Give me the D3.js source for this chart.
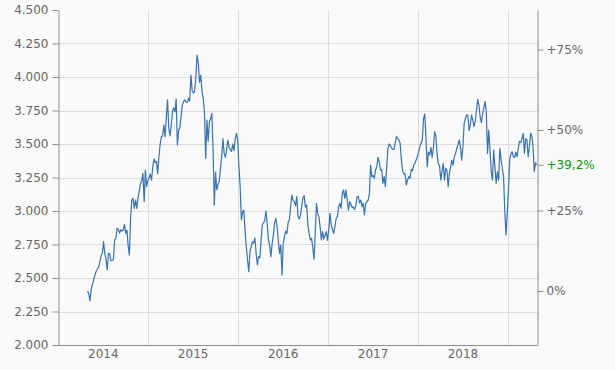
<!DOCTYPE html>
<html>
<head>
<meta charset="utf-8">
<script src="https://cdn.jsdelivr.net/npm/d3@7"></script>
<style>
  html, body { margin: 0; padding: 0; background: #fafafa; }
  svg { display: block; font-family: "DejaVu Sans", Verdana, sans-serif; }
</style>
</head>
<body>
<div id="chart"></div>
<script>
// price series, one value every 5 days starting 2014-04-29
const startDate = '2014-04-29';
const stepDays = 5;
const prices = [
  2403, 2380, 2330, 2420, 2450, 2490, 2520, 2550, 2565, 2580,
  2620, 2665, 2684, 2771, 2684, 2640, 2560, 2684, 2680, 2629,
  2631, 2634, 2784, 2796, 2870, 2865, 2835, 2860, 2850, 2860,
  2900, 2833, 2858, 2740, 2671, 2950, 3082, 3094, 3020, 3082,
  3020, 3100, 3150, 3200, 3225, 3281, 3070, 3306, 3181, 3225,
  3250, 3275, 3230, 3330, 3390, 3360, 3370, 3281, 3405, 3500,
  3555, 3560, 3642, 3555, 3700, 3830, 3620, 3560, 3640, 3741,
  3770, 3740, 3835, 3493, 3604, 3620, 3710, 3790, 3816, 3830,
  3815, 3810, 3840, 3820, 4015, 3900, 3880, 3890, 4000, 4164,
  4100, 3960, 4015, 3890, 3840, 3741, 3393, 3679, 3520, 3667,
  3690, 3729, 3450, 3045, 3290, 3157, 3200, 3220, 3320, 3405,
  3540, 3430, 3400, 3460, 3530, 3475, 3460, 3445, 3500, 3450,
  3542, 3580, 3530, 3330, 3180, 2933, 2990, 3007, 2850, 2730,
  2636, 2547, 2700, 2735, 2770, 2760, 2800, 2680, 2600, 2660,
  2650, 2784, 2900, 2908, 2933, 3000, 2900, 2790, 2740, 2659,
  2758, 2821, 2908, 2945, 2883, 2784, 2684, 2746, 2522, 2758,
  2808, 2850, 2833, 2915, 2933, 3032, 3119, 3082, 3070, 3040,
  3107, 2960, 2940, 2970, 3030, 3100, 3115, 3030, 3045, 2908,
  2833, 2784, 2796, 2730, 2640, 2833, 3057, 2982, 2958, 2880,
  2784, 2846, 2790, 2820, 2846, 2780, 2858, 2982, 2900, 2860,
  2833, 2883, 2945, 2958, 3032, 3057, 3020, 3132, 3157, 3094,
  3157, 3082, 3007, 3070, 3050, 3025, 3030, 3010, 3040, 3107,
  3110, 3060, 3082, 3032, 3057, 2970, 3057, 3070, 3080, 3130,
  3343, 3256, 3265, 3244, 3306, 3330, 3400, 3368, 3306, 3310,
  3206, 3256, 3181, 3320, 3460, 3500, 3490, 3470, 3460, 3460,
  3510, 3555, 3542, 3530, 3505, 3380, 3300, 3275, 3280, 3194,
  3231, 3256, 3244, 3310, 3300, 3345, 3356, 3380, 3405, 3440,
  3480, 3505, 3530, 3690, 3724, 3540, 3330, 3440, 3418, 3475,
  3400, 3470, 3592, 3560, 3430, 3350, 3340, 3231, 3300, 3355,
  3231, 3318, 3306, 3182, 3280, 3330, 3380, 3343, 3405, 3430,
  3465, 3495, 3530, 3480, 3380, 3480, 3654, 3690, 3716, 3716,
  3600, 3640, 3716, 3679, 3629, 3667, 3750, 3833, 3790, 3700,
  3660, 3729, 3770, 3816, 3740, 3430, 3604, 3455, 3290, 3231,
  3455, 3330, 3206, 3293, 3231, 3468, 3380, 3318, 3256, 3007,
  2821, 2980, 3160, 3380, 3430, 3443, 3405, 3400, 3440, 3405,
  3468, 3520, 3510, 3542, 3580, 3430, 3540, 3530, 3405, 3480,
  3580, 3560, 3480, 3293, 3360, 3345
];

const yTicks = [2000, 2250, 2500, 2750, 3000, 3250, 3500, 3750, 4000, 4250, 4500];
const pctTicks = [0, 0.25, 0.5, 0.75];
const years = [2014, 2015, 2016, 2017, 2018];

const width = 615, height = 370;
const margin = { top: 10, right: 77.5, bottom: 25, left: 58.5 };
const axisColor = '#8c8c8c', gridColor = '#dcdcdc', textColor = '#666';

const de = d3.formatLocale({ decimal: ',', thousands: '.', grouping: [3], currency: ['', '€'] });
const fmtPrice = de.format(',.0f');
const fmtPct = de.format('+.1f');

const t0 = d3.timeParse('%Y-%m-%d')(startDate);
const data = prices.map((v, i) => ({ date: d3.timeDay.offset(t0, i * stepDays), value: v }));
const base = prices[0];
const last = prices[prices.length - 1];

const svg = d3.select('#chart').append('svg')
  .attr('width', width)
  .attr('height', height);

const x = d3.scaleTime()
  .domain([new Date(2014, 0, 1), new Date(2019, 4, 1)])
  .range([margin.left, width - margin.right]);

const y = d3.scaleLinear()
  .domain([2000, 4500])
  .range([height - margin.bottom, margin.top]);

// grid
svg.append('g')
  .selectAll('line')
  .data(yTicks.slice(1, -1))
  .join('line')
  .attr('x1', margin.left).attr('x2', width - margin.right)
  .attr('y1', d => Math.round(y(d)) + 0.5).attr('y2', d => Math.round(y(d)) + 0.5)
  .attr('stroke', gridColor);

svg.append('g')
  .selectAll('line')
  .data(years.slice(1).concat([2019]).map(yr => new Date(yr, 0, 1)))
  .join('line')
  .attr('x1', d => Math.round(x(d)) + 0.5).attr('x2', d => Math.round(x(d)) + 0.5)
  .attr('y1', margin.top).attr('y2', height - margin.bottom)
  .attr('stroke', gridColor);

// left axis
const yAxis = svg.append('g')
  .attr('transform', `translate(${margin.left},0)`)
  .call(d3.axisLeft(y).tickValues(yTicks).tickFormat(fmtPrice).tickSizeOuter(0).tickPadding(4));

// right axis in percent of first price
const pctValues = pctTicks.map(p => base * (1 + p));
const rAxis = svg.append('g')
  .attr('transform', `translate(${width - margin.right},0)`)
  .call(d3.axisRight(y).tickValues(pctValues.concat([last]))
    .tickFormat(v => {
      const p = (v / base - 1) * 100;
      if (v === last) return fmtPct(p) + '%';
      return Math.abs(p) < 0.01 ? '0%' : '+' + Math.round(p) + '%';
    })
    .tickSizeOuter(0).tickPadding(3));

[yAxis, rAxis].forEach(g => {
  g.select('.domain').attr('stroke', axisColor);
  g.selectAll('.tick line').attr('stroke', axisColor);
  g.selectAll('.tick text').attr('fill', textColor).attr('font-size', 12)
    .attr('font-family', '"DejaVu Sans", Verdana, sans-serif');
});
rAxis.selectAll('.tick text').filter(d => d === last).attr('fill', '#0a960a');

// bottom axis line and year labels
svg.append('line')
  .attr('x1', margin.left).attr('x2', width - margin.right)
  .attr('y1', height - margin.bottom + 0.5).attr('y2', height - margin.bottom + 0.5)
  .attr('stroke', axisColor);

svg.append('g')
  .selectAll('text')
  .data(years)
  .join('text')
  .attr('x', yr => x(new Date(yr, 6, 2)))
  .attr('y', height - 12)
  .attr('text-anchor', 'middle')
  .attr('font-size', 12)
  .attr('fill', textColor)
  .text(yr => yr);

// price line
svg.append('path')
  .datum(data)
  .attr('fill', 'none')
  .attr('stroke', '#3673b0')
  .attr('stroke-width', 1.2)
  .attr('stroke-linejoin', 'round')
  .attr('d', d3.line().x(d => x(d.date)).y(d => y(d.value)));
</script>
</body>
</html>
